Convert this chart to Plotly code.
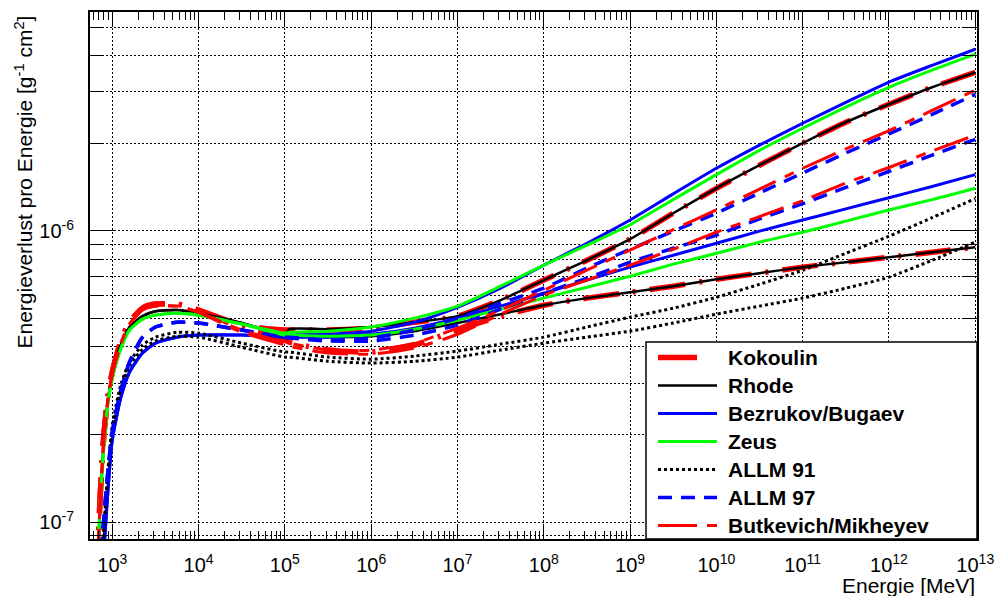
import plotly.graph_objects as go

# Energy grid (MeV) shared by all parametrisations
energy_mev = [660, 725, 795, 891, 1000, 1259, 1585, 2239, 3162, 5623,
              1e4, 3.162e4, 1e5, 1.122e5, 3.162e5, 1e6, 3.162e6, 1e7, 3.162e7,
              1e8, 3.162e8, 1e9, 3.162e9, 1e10, 3.162e10, 1e11, 3.162e11,
              1e12, 3.162e12, 1e13]

# Photonuclear energy loss per energy b(E) in g^-1 cm^2, two curves per model
kokoulin_a = [6.34e-8, 1.24e-7, 1.96e-7, 2.71e-7, 3.28e-7, 4.19e-7, 4.86e-7, 5.43e-7, 5.61e-7, 5.61e-7,
              5.35e-7, 4.75e-7, 4.57e-7, 4.57e-7, 4.57e-7, 4.64e-7, 4.86e-7, 5.10e-7, 5.79e-7, 6.78e-7,
              7.93e-7, 9.37e-7, 1.15e-6, 1.40e-6, 1.68e-6, 2.00e-6, 2.36e-6, 2.72e-6, 3.11e-6, 3.50e-6]
kokoulin_b = [6.34e-8, 1.24e-7, 1.96e-7, 2.71e-7, 3.28e-7, 4.19e-7, 4.86e-7, 5.43e-7, 5.61e-7, 5.61e-7,
              5.35e-7, 4.64e-7, 4.22e-7, 4.15e-7, 3.90e-7, 3.84e-7, 4.06e-7, 4.57e-7, 5.10e-7, 5.56e-7,
              5.88e-7, 6.16e-7, 6.46e-7, 6.83e-7, 7.16e-7, 7.51e-7, 7.81e-7, 8.12e-7, 8.45e-7, 8.79e-7]
rhode_a = [5.86e-8, 1.15e-7, 1.84e-7, 2.63e-7, 3.23e-7, 4.06e-7, 4.68e-7, 5.10e-7, 5.30e-7, 5.35e-7,
           5.22e-7, 4.83e-7, 4.39e-7, 4.60e-7, 4.60e-7, 4.68e-7, 4.86e-7, 5.10e-7, 5.79e-7, 6.78e-7,
           7.93e-7, 9.37e-7, 1.15e-6, 1.40e-6, 1.68e-6, 2.00e-6, 2.36e-6, 2.72e-6, 3.11e-6, 3.50e-6]
rhode_b = [5.86e-8, 1.15e-7, 1.84e-7, 2.63e-7, 3.23e-7, 4.06e-7, 4.68e-7, 5.10e-7, 5.30e-7, 5.35e-7,
           5.22e-7, 4.83e-7, 4.39e-7, 4.35e-7, 4.32e-7, 4.35e-7, 4.53e-7, 4.83e-7, 5.18e-7, 5.56e-7,
           5.88e-7, 6.16e-7, 6.46e-7, 6.83e-7, 7.16e-7, 7.51e-7, 7.81e-7, 8.12e-7, 8.45e-7, 8.79e-7]
bezrukov_a = [2.88e-8, 4.62e-8, 7.72e-8, 1.29e-7, 1.92e-7, 2.69e-7, 3.28e-7, 3.81e-7, 4.12e-7, 4.32e-7,
              4.39e-7, 4.39e-7, 4.35e-7, 4.39e-7, 4.42e-7, 4.53e-7, 4.86e-7, 5.47e-7, 6.36e-7, 7.63e-7,
              9.07e-7, 1.09e-6, 1.34e-6, 1.64e-6, 1.97e-6, 2.34e-6, 2.76e-6, 3.24e-6, 3.70e-6, 4.20e-6]
bezrukov_b = [2.88e-8, 4.62e-8, 7.72e-8, 1.29e-7, 1.92e-7, 2.69e-7, 3.28e-7, 3.81e-7, 4.12e-7, 4.32e-7,
              4.39e-7, 4.39e-7, 4.32e-7, 4.32e-7, 4.32e-7, 4.42e-7, 4.64e-7, 5.02e-7, 5.52e-7, 6.11e-7,
              6.78e-7, 7.51e-7, 8.25e-7, 9.07e-7, 9.98e-7, 1.09e-6, 1.19e-6, 1.30e-6, 1.42e-6, 1.56e-6]
zeus_a = [6.34e-8, 1.19e-7, 1.80e-7, 2.57e-7, 3.13e-7, 3.96e-7, 4.57e-7, 4.98e-7, 5.14e-7, 5.22e-7,
          5.14e-7, 4.79e-7, 4.46e-7, 4.49e-7, 4.53e-7, 4.68e-7, 5.02e-7, 5.52e-7, 6.46e-7, 7.63e-7,
          8.93e-7, 1.05e-6, 1.28e-6, 1.56e-6, 1.89e-6, 2.25e-6, 2.66e-6, 3.11e-6, 3.56e-6, 4.04e-6]
zeus_b = [6.34e-8, 1.19e-7, 1.80e-7, 2.57e-7, 3.13e-7, 3.96e-7, 4.57e-7, 4.98e-7, 5.14e-7, 5.22e-7,
          5.14e-7, 4.79e-7, 4.39e-7, 4.39e-7, 4.35e-7, 4.39e-7, 4.60e-7, 4.94e-7, 5.39e-7, 5.88e-7,
          6.41e-7, 6.99e-7, 7.69e-7, 8.38e-7, 9.15e-7, 9.90e-7, 1.08e-6, 1.18e-6, 1.28e-6, 1.40e-6]
allm91_a = [3.95e-8, 5.86e-8, 9.41e-8, 1.51e-7, 2.16e-7, 2.98e-7, 3.55e-7, 4.06e-7, 4.32e-7, 4.49e-7,
            4.46e-7, 4.12e-7, 3.84e-7, 3.84e-7, 3.69e-7, 3.63e-7, 3.72e-7, 3.87e-7, 4.09e-7, 4.32e-7,
            4.68e-7, 5.06e-7, 5.43e-7, 5.92e-7, 6.56e-7, 7.33e-7, 8.38e-7, 9.59e-7, 1.11e-6, 1.29e-6]
allm91_b = [3.80e-8, 5.63e-8, 9.05e-8, 1.45e-7, 2.07e-7, 2.89e-7, 3.44e-7, 3.93e-7, 4.19e-7, 4.35e-7,
            4.32e-7, 3.99e-7, 3.69e-7, 3.69e-7, 3.57e-7, 3.52e-7, 3.57e-7, 3.69e-7, 3.90e-7, 4.12e-7,
            4.32e-7, 4.53e-7, 4.83e-7, 5.18e-7, 5.52e-7, 5.88e-7, 6.36e-7, 6.94e-7, 7.93e-7, 9.15e-7]
allm97_a = [4.62e-8, 6.86e-8, 1.03e-7, 1.51e-7, 2.04e-7, 2.84e-7, 3.55e-7, 4.32e-7, 4.68e-7, 4.86e-7,
            4.83e-7, 4.57e-7, 4.32e-7, 4.32e-7, 4.22e-7, 4.29e-7, 4.57e-7, 5.02e-7, 5.65e-7, 6.36e-7,
            7.45e-7, 8.65e-7, 9.98e-7, 1.15e-6, 1.35e-6, 1.58e-6, 1.85e-6, 2.15e-6, 2.51e-6, 2.94e-6]
allm97_b = [4.62e-8, 6.86e-8, 1.03e-7, 1.51e-7, 2.04e-7, 2.84e-7, 3.55e-7, 4.32e-7, 4.68e-7, 4.86e-7,
            4.83e-7, 4.57e-7, 4.29e-7, 4.29e-7, 4.19e-7, 4.19e-7, 4.39e-7, 4.75e-7, 5.39e-7, 6.11e-7,
            6.88e-7, 7.81e-7, 8.72e-7, 9.67e-7, 1.10e-6, 1.24e-6, 1.41e-6, 1.60e-6, 1.82e-6, 2.06e-6]
butkevich_a = [6.10e-8, 1.19e-7, 1.92e-7, 2.65e-7, 3.23e-7, 4.12e-7, 4.79e-7, 5.35e-7, 5.52e-7, 5.52e-7,
               5.26e-7, 4.57e-7, 4.15e-7, 4.12e-7, 3.90e-7, 3.90e-7, 4.12e-7, 4.64e-7, 5.35e-7, 6.26e-7,
               7.33e-7, 8.59e-7, 1.01e-6, 1.18e-6, 1.39e-6, 1.64e-6, 1.91e-6, 2.21e-6, 2.59e-6, 3.04e-6]
butkevich_b = [6.10e-8, 1.19e-7, 1.92e-7, 2.65e-7, 3.23e-7, 4.12e-7, 4.79e-7, 5.35e-7, 5.52e-7, 5.52e-7,
               5.26e-7, 4.49e-7, 4.06e-7, 4.02e-7, 3.81e-7, 3.78e-7, 3.96e-7, 4.42e-7, 5.18e-7, 6.02e-7,
               6.78e-7, 7.63e-7, 8.65e-7, 9.90e-7, 1.12e-6, 1.27e-6, 1.46e-6, 1.65e-6, 1.88e-6, 2.13e-6]

model_names = ["Kokoulin", "Rhode", "Bezrukov/Bugaev", "Zeus", "ALLM 91", "ALLM 97", "Butkevich/Mikheyev"]
model_curves = [(kokoulin_a, kokoulin_b), (rhode_a, rhode_b), (bezrukov_a, bezrukov_b),
                (zeus_a, zeus_b), (allm91_a, allm91_b), (allm97_a, allm97_b),
                (butkevich_a, butkevich_b)]

# line style per model: colour, width, dash pattern
styles = [
    ("#ff0000", 5.5, "36px,14px,3px,14px"),
    ("#000000", 2.5, "solid"),
    ("#0000ff", 3, "solid"),
    ("#00ff00", 3, "solid"),
    ("#000000", 3, "dot"),
    ("#0000ff", 3.5, "14px,9px"),
    ("#ff0000", 3, "36px,10px,10px,10px"),
]
legend_dash = ["solid", "solid", "solid", "solid", "dot", "14px,9px", "39px,10px,10px,10px"]
legend_len = [39, 59, 59, 59, 59, 59, 59]

FONT = "Liberation Sans, Arial, Helvetica, sans-serif"
W, H = 999, 596
M_L, M_R, M_T, M_B = 90, 22, 12, 57
PW, PH = W - M_L - M_R, H - M_T - M_B


def px_x(p):
    return (p - M_L) / PW


def px_y(p):
    return (H - M_B - p) / PH


fig = go.Figure()
for name, (curve_a, curve_b), (color, width, dash) in zip(model_names, model_curves, styles):
    for curve in (curve_a, curve_b):
        fig.add_trace(go.Scatter(
            x=energy_mev, y=curve, mode="lines", name=name, showlegend=False,
            line=dict(color=color, width=width, dash=dash, shape="spline", smoothing=0.6),
            hoverinfo="skip",
        ))

x_major = [10.0 ** k for k in range(3, 14)]
x_minor = [m * 10.0 ** k for k in range(2, 13) for m in range(2, 10) if 552 < m * 10.0 ** k < 1e13]
y_major = [1e-7, 1e-6]
y_minor = [m * 10.0 ** k for k in (-8, -7, -6) for m in range(2, 10) if 8.8e-8 < m * 10.0 ** k < 5.6e-6]

grid_dot = "2px,2px"
fig.update_xaxes(
    type="log", range=[2.7416, 13.02], automargin=False,
    tickmode="array", tickvals=x_major,
    ticktext=["10<sup>%d</sup>" % k for k in range(3, 14)],
    ticks="inside", ticklen=15, tickwidth=1, tickcolor="black",
    showline=True, linewidth=2, linecolor="black", mirror="ticks",
    showgrid=True, gridcolor="black", gridwidth=1, griddash=grid_dot,
    minor=dict(tickmode="array", tickvals=x_minor, ticks="inside", ticklen=8,
               tickwidth=1, tickcolor="black", showgrid=False),
    tickfont=dict(family=FONT, size=20, color="black"),
    ticklabelstandoff=7, zeroline=False,
)
fig.update_yaxes(
    type="log", range=[-7.057, -5.249], automargin=False,
    tickmode="array", tickvals=y_major,
    ticktext=["10<sup>-7</sup>", "10<sup>-6</sup>"],
    ticks="inside", ticklen=25, tickwidth=1, tickcolor="black",
    showline=True, linewidth=2, linecolor="black", mirror="ticks",
    showgrid=True, gridcolor="black", gridwidth=1, griddash=grid_dot,
    minor=dict(tickmode="array", tickvals=y_minor, ticks="inside", ticklen=13,
               tickwidth=1, tickcolor="black", showgrid=True,
               gridcolor="black", gridwidth=1, griddash=grid_dot),
    tickfont=dict(family=FONT, size=20, color="black"),
    ticklabelstandoff=10, zeroline=False,
)

shapes = [dict(type="rect", xref="paper", yref="paper", x0=px_x(646), x1=1.0, y0=0.0, y1=px_y(342),
               line=dict(color="black", width=1.5), fillcolor="white", layer="above")]
annotations = []
row_y = [357.5, 385.5, 413.5, 441.5, 469.5, 497.5, 525.5]
for name, (color, width, dash), ldash, llen, yc in zip(model_names, styles, legend_dash, legend_len, row_y):
    shapes.append(dict(type="line", xref="paper", yref="paper",
                       x0=px_x(658), x1=px_x(658 + llen), y0=px_y(yc), y1=px_y(yc),
                       line=dict(color=color, width=width, dash=ldash), layer="above"))
    annotations.append(dict(text="<b>%s</b>" % name, xref="paper", yref="paper",
                            x=px_x(726), y=px_y(yc), xanchor="left", yanchor="middle",
                            showarrow=False, font=dict(family=FONT, size=21, color="black")))

annotations.append(dict(text="Energie [MeV]", xref="paper", yref="paper", x=1.0, y=0.0,
                        xanchor="right", yanchor="middle", yshift=-46, showarrow=False,
                        font=dict(family=FONT, size=21, color="black")))
annotations.append(dict(text="Energieverlust pro Energie [g<sup>-1</sup> cm<sup>2</sup>]",
                        xref="paper", yref="paper", x=0.0, y=1.0, xanchor="center", yanchor="top",
                        xshift=-67, yshift=-2, textangle=-90, showarrow=False,
                        font=dict(family=FONT, size=21, color="black")))

fig.update_layout(
    width=W, height=H,
    margin=dict(l=M_L, r=M_R, t=M_T, b=M_B, autoexpand=False),
    paper_bgcolor="white", plot_bgcolor="white",
    showlegend=False,
    shapes=shapes, annotations=annotations,
    font=dict(family=FONT, color="black"),
)

fig.write_html("out.html")
